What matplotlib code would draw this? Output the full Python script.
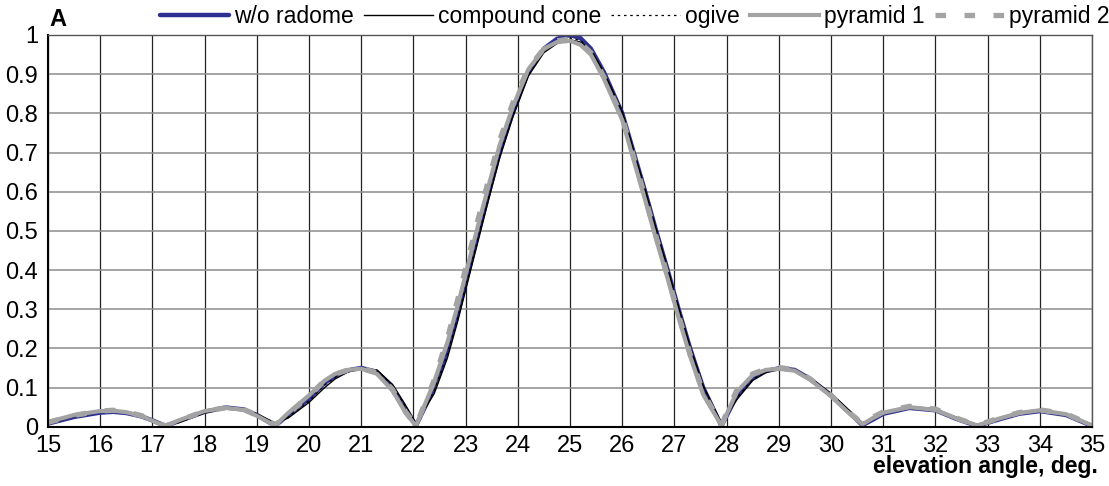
import matplotlib.pyplot as plt
plt.rc('font', family=['Liberation Sans', 'DejaVu Sans'], size=17)

# elevation angle grid, deg.
angle = [15, 15.5, 16, 16.25, 16.5, 16.8, 17, 17.25,
         17.5, 18, 18.4, 18.75, 19, 19.35, 19.6, 20,
         20.3, 20.5, 20.75, 21, 21.3, 21.6, 21.85, 22.05, 22.4,
         22.65, 22.85, 23.05, 23.25, 23.45, 23.65, 23.9, 24.2,
         24.5, 24.75, 25, 25.2, 25.4, 25.65, 26, 26.22, 26.44, 26.65,
         26.87, 27.08, 27.3, 27.55, 27.9, 28.2, 28.5, 28.75, 29,
         29.3, 29.6, 30, 30.3, 30.6, 30.8, 31, 31.5,
         32, 32.4, 32.8, 33.2, 33.6, 34, 34.5, 35]

no_radome = [0.008, 0.025, 0.036, 0.038, 0.035, 0.026, 0.016, 0.002,
             0.014, 0.038, 0.049, 0.044, 0.030, 0.002, 0.030, 0.072,
             0.112, 0.130, 0.144, 0.150, 0.140, 0.100, 0.045, 0.003, 0.100,
             0.195, 0.290, 0.395, 0.500, 0.600, 0.700, 0.800, 0.905,
             0.965, 0.990, 1.000, 0.992, 0.965, 0.905, 0.800, 0.700, 0.600, 0.500,
             0.400, 0.300, 0.200, 0.100, 0.002, 0.080, 0.125, 0.142, 0.149,
             0.145, 0.122, 0.080, 0.042, 0.004, 0.018, 0.033, 0.048,
             0.042, 0.020, 0.002, 0.018, 0.033, 0.040, 0.030, 0.002]

compound_cone = [0.010, 0.027, 0.038, 0.040, 0.037, 0.028, 0.018, 0.004,
                 0.010, 0.035, 0.046, 0.045, 0.033, 0.010, 0.022, 0.062,
                 0.100, 0.122, 0.140, 0.148, 0.145, 0.108, 0.055, 0.008, 0.085,
                 0.175, 0.270, 0.375, 0.480, 0.585, 0.685, 0.790, 0.895,
                 0.955, 0.978, 0.988, 0.982, 0.962, 0.905, 0.805, 0.705, 0.605, 0.505,
                 0.405, 0.305, 0.205, 0.105, 0.010, 0.070, 0.118, 0.138, 0.147,
                 0.146, 0.125, 0.085, 0.048, 0.010, 0.020, 0.035, 0.047,
                 0.043, 0.024, 0.005, 0.020, 0.035, 0.042, 0.033, 0.005]

ogive = [0.009, 0.026, 0.037, 0.039, 0.036, 0.027, 0.017, 0.003,
         0.012, 0.036, 0.047, 0.044, 0.031, 0.006, 0.025, 0.066,
         0.106, 0.126, 0.142, 0.149, 0.143, 0.104, 0.050, 0.005, 0.092,
         0.185, 0.280, 0.385, 0.490, 0.592, 0.692, 0.795, 0.900,
         0.960, 0.982, 0.992, 0.986, 0.963, 0.903, 0.802, 0.702, 0.602, 0.502,
         0.402, 0.302, 0.202, 0.102, 0.006, 0.075, 0.121, 0.140, 0.148,
         0.145, 0.123, 0.082, 0.045, 0.007, 0.019, 0.034, 0.048,
         0.042, 0.022, 0.003, 0.019, 0.034, 0.041, 0.031, 0.003]

pyramid1 = [0.012, 0.030, 0.040, 0.041, 0.037, 0.027, 0.015, 0.001,
            0.016, 0.040, 0.048, 0.043, 0.028, 0.003, 0.035, 0.080,
            0.118, 0.135, 0.145, 0.148, 0.135, 0.092, 0.035, 0.002, 0.115,
            0.215, 0.310, 0.415, 0.520, 0.620, 0.718, 0.815, 0.912,
            0.965, 0.982, 0.985, 0.975, 0.950, 0.888, 0.783, 0.680, 0.578, 0.478,
            0.378, 0.278, 0.180, 0.082, 0.003, 0.090, 0.132, 0.145, 0.148,
            0.143, 0.120, 0.078, 0.040, 0.006, 0.022, 0.036, 0.050,
            0.043, 0.021, 0.003, 0.020, 0.035, 0.042, 0.032, 0.003]

pyramid2 = [0.011, 0.029, 0.040, 0.042, 0.038, 0.028, 0.016, 0.002,
            0.015, 0.040, 0.048, 0.044, 0.029, 0.004, 0.033, 0.078,
            0.118, 0.134, 0.145, 0.149, 0.138, 0.095, 0.038, 0.003, 0.120,
            0.225, 0.325, 0.430, 0.535, 0.635, 0.730, 0.825, 0.915,
            0.965, 0.985, 0.990, 0.980, 0.955, 0.893, 0.790, 0.688, 0.585, 0.485,
            0.385, 0.285, 0.185, 0.088, 0.004, 0.095, 0.135, 0.147, 0.151,
            0.146, 0.122, 0.080, 0.042, 0.008, 0.024, 0.038, 0.052,
            0.045, 0.022, 0.004, 0.021, 0.036, 0.043, 0.033, 0.004]

x_ticks = list(range(15, 36))
y_ticks = [0, 0.1, 0.2, 0.3, 0.4, 0.5, 0.6, 0.7, 0.8, 0.9, 1]
y_labels = ['0', '0.1', '0.2', '0.3', '0.4', '0.5', '0.6', '0.7', '0.8', '0.9', '1']

fig = plt.figure(figsize=(11.09, 4.86), dpi=100)
ax = fig.add_axes([0.0433, 0.122, 0.9414, 0.806])

blue = '#2e3192'
gray = '#a3a3a3'
ax.plot(angle, no_radome, color=blue, lw=3.2, label='w/o radome',
        solid_capstyle='round', solid_joinstyle='round')
ax.plot(angle, compound_cone, color='black', lw=1.0, label='compound cone')
ax.plot(angle, ogive, color='black', lw=0.9, ls=(0, (2, 3)), label='ogive')
ax.plot(angle, pyramid1, color=gray, lw=3.0, label='pyramid 1', solid_joinstyle='round')
ax.plot(angle, pyramid2, color=gray, lw=3.8, ls=(0, (2, 3.5)), label='pyramid 2')

ax.set_xlim(15, 35)
ax.set_ylim(0, 1)
ax.set_xticks(x_ticks)
ax.set_yticks(y_ticks)
ax.set_yticklabels(y_labels)
ax.tick_params(length=0)
ax.tick_params(axis='x', pad=6)
ax.tick_params(axis='y', pad=7)

# vertical grid dark, horizontal grid gray
ax.grid(axis='x', color='#222222', lw=0.9)
ax.grid(axis='y', color='#8c8c8c', lw=1.1)
ax.set_axisbelow(True)
for s in ['left', 'bottom']:
    ax.spines[s].set_color('black')
    ax.spines[s].set_linewidth(1.5)
for s in ['top', 'right']:
    ax.spines[s].set_color('#555555')
    ax.spines[s].set_linewidth(1.0)

ax.legend(loc='center', bbox_to_anchor=(0.562, 1.046), ncol=5, frameon=False,
          fontsize=16.5, handlelength=3.0, handletextpad=0.22, columnspacing=0.45,
          borderpad=0, borderaxespad=0)

fig.text(0.045, 0.96, 'A', fontsize=17, fontweight='bold', va='center')
fig.text(0.99, 0.04, 'elevation angle, deg.', fontsize=16.5, fontweight='bold',
         ha='right', va='center')

fig.savefig('out.png')
